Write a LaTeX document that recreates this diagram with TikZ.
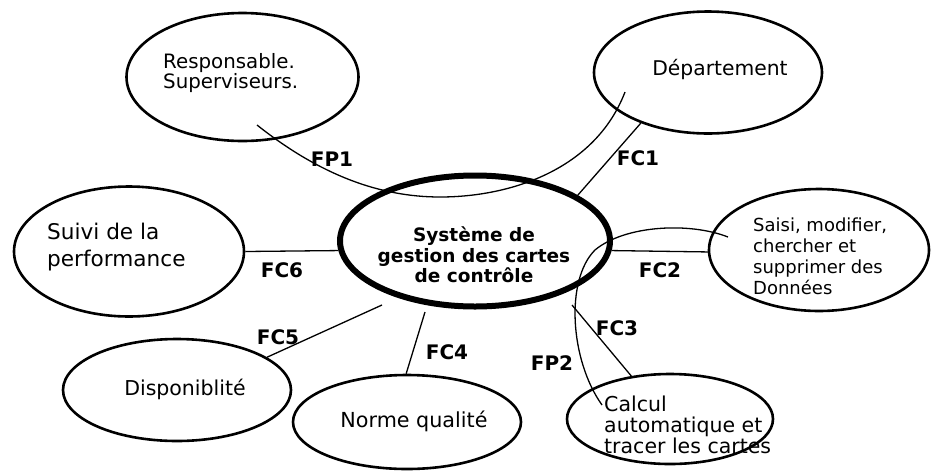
\documentclass[tikz,border=0pt]{standalone}
\usepackage{fontspec}
\setmainfont{DejaVu Sans}
\usetikzlibrary{shapes.geometric}
\begin{document}
\begin{tikzpicture}[x=1pt,y=-1pt,
  oval/.style={draw,ellipse,line width=2.6pt,inner sep=0pt},
  link/.style={line width=1.3pt},
  lbl/.style={font=\fontsize{20}{20}\selectfont\bfseries,inner sep=0pt},
  txt/.style={inner sep=0pt,align=left}]
\useasboundingbox (0,0) rectangle (932,472);
% ellipses
\node[oval,minimum width=270pt,minimum height=131pt,line width=6pt] (sys) at (475,241) {};
\node[oval,minimum width=232pt,minimum height=128pt] (resp) at (242.5,77) {};
\node[oval,minimum width=228pt,minimum height=122pt] (dep) at (708,72.5) {};
\node[oval,minimum width=230pt,minimum height=130pt] (suivi) at (129,251.5) {};
\node[oval,minimum width=220pt,minimum height=122pt] (saisi) at (819,250) {};
\node[oval,minimum width=206pt,minimum height=90pt] (calc) at (670,419) {};
\node[oval,minimum width=228pt,minimum height=102pt] (dispo) at (177,390) {};
\node[oval,minimum width=228pt,minimum height=94pt] (norme) at (407,422) {};
% texts
\node[inner sep=0pt,align=center,font=\fontsize{18.5}{20.5}\selectfont\bfseries] (tsys) at (474,255) {Système de\\gestion des cartes\\de contrôle};
\node[txt,anchor=west,font=\fontsize{19.8}{20.5}\selectfont] (tresp) at (163,73) {Responsable.\\Superviseurs.};
\node[txt,font=\fontsize{20.3}{24}\selectfont] (tdep) at (720,69) {Département};
\node[txt,anchor=west,font=\fontsize{21.6}{27}\selectfont] (tsuivi) at (47,247) {Suivi de la\\performance};
\node[txt,anchor=west,font=\fontsize{18}{21}\selectfont] (tsaisi) at (753,256) {Saisi, modifier,\\chercher et\\supprimer des\\Données};
\node[txt,anchor=west,font=\fontsize{20.5}{21}\selectfont] (tcalc) at (604,425) {Calcul\\automatique et\\tracer les cartes};
\node[txt,font=\fontsize{20.5}{24}\selectfont] (tdispo) at (185,389) {Disponiblité};
\node[txt,font=\fontsize{20.7}{24}\selectfont] (tnorme) at (414,421) {Norme qualité};
% free ends
\coordinate (fp1a) at (257,125);
\coordinate (fp1b) at (625,92);
\coordinate (fp2a) at (728,237);
\coordinate (fp2b) at (602,405);
\coordinate (fc3a) at (572,305);
\coordinate (fc4a) at (425,312);
\coordinate (fc5a) at (382,305);
% connectors
\draw[link] (sys.24.3) -- (dep.217);
\draw[link] (sys.-4.7) -- (saisi.181);
\draw[link] (fc3a) -- (calc.132);
\draw[link] (fc4a) -- (norme.91);
\draw[link] (fc5a) -- (dispo.20);
\draw[link] (suivi.east) -- (sys.184.6);
\draw[link] (fp1a) .. controls (320,175) and (380,197) .. (440,197)
  .. controls (510,197) and (595,170) .. (fp1b);
\draw[link] (fp2a) .. controls (690,222) and (625,225) .. (595,250)
  .. controls (565,280) and (570,360) .. (fp2b);
% labels
\node[lbl] (lfp1) at (332,159) {FP1};
\node[lbl] (lfc1) at (638,158) {FC1};
\node[lbl] (lfc6) at (282,270) {FC6};
\node[lbl] (lfc2) at (660,270) {FC2};
\node[lbl] (lfc3) at (617,328) {FC3};
\node[lbl] (lfp2) at (552,363) {FP2};
\node[lbl] (lfc5) at (278,337) {FC5};
\node[lbl] (lfc4) at (447,352) {FC4};
\end{tikzpicture}
\end{document}
